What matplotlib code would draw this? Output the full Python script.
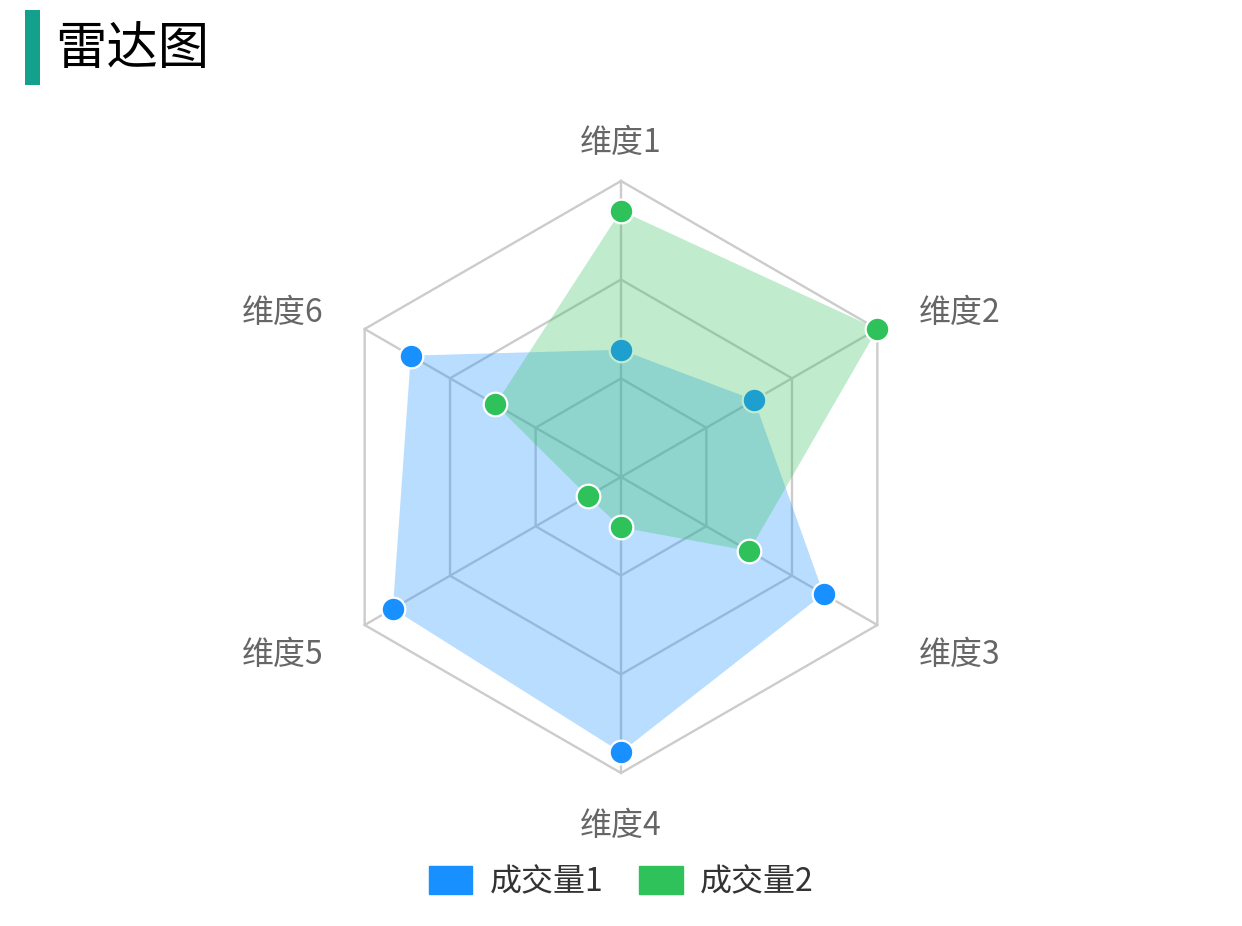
import numpy as np
import matplotlib
matplotlib.use("Agg")
import matplotlib.pyplot as plt
from matplotlib.patches import Patch, Rectangle

plt.rcParams['font.family'] = ['Noto Sans CJK SC', 'DejaVu Sans']

title = "雷达图"
dimensions = ["维度1", "维度2", "维度3", "维度4", "维度5", "维度6"]
series_names = ["成交量1", "成交量2"]
values1 = [43, 52, 79, 93, 89, 82]
values2 = [90, 100, 50, 17, 13, 49]
max_value = 100
grid_levels = [33.3, 66.7, 100]

blue = "#1890FF"
green = "#2FC25B"

W, H = 1242, 926
fig = plt.figure(figsize=(W / 100, H / 100), dpi=100)

cx, cy, R = 621, 477, 296
ax = fig.add_axes([(cx - R) / W, (H - cy - R) / H, 2 * R / W, 2 * R / H], projection='polar')
ax.set_theta_offset(np.pi / 2)
ax.set_theta_direction(-1)
ax.set_ylim(0, max_value)
ax.grid(False)
ax.spines['polar'].set_visible(False)
ax.set_xticks([])
ax.set_yticks([])
ax.patch.set_alpha(0)

n = len(dimensions)
theta = np.arange(n) * 2 * np.pi / n
theta_closed = np.append(theta, theta[0])

# grid hexagons and spokes
for lv in grid_levels:
    ax.plot(theta_closed, [lv] * (n + 1), color="#cccccc", lw=1.7, zorder=1, clip_on=False)
for t in theta:
    ax.plot([t, t], [0, max_value], color="#cccccc", lw=1.7, zorder=1, clip_on=False)

v1 = np.append(values1, values1[0])
v2 = np.append(values2, values2[0])

ax.fill(theta_closed, v1, color=blue, alpha=0.3, lw=0, zorder=2)
ax.plot(theta, values1, ls='none', marker='o', ms=17, mfc=blue, mec='white', mew=1.6, zorder=3, clip_on=False)
ax.fill(theta_closed, v2, color=green, alpha=0.3, lw=0, zorder=4)
ax.plot(theta, values2, ls='none', marker='o', ms=17, mfc=green, mec='white', mew=1.6, zorder=5, clip_on=False)

# axis labels
offsets = [(0, 38, 'center'), (41, 16, 'left'), (41, -30, 'left'),
           (0, -53, 'center'), (-41, -30, 'right'), (-41, 16, 'right')]
for t, lab, (dx, dy, ha) in zip(theta, dimensions, offsets):
    ax.annotate(lab, xy=(t, max_value), xytext=(dx * 0.72, dy * 0.72), textcoords='offset points',
                ha=ha, va='center', fontsize=23, color="#666666", annotation_clip=False)

# title
fig.patches.append(Rectangle((25 / W, 1 - 85 / H), 15 / W, 75 / H, transform=fig.transFigure,
                             color="#13A08C", lw=0))
fig.text(55 / W, 1 - 49 / H, title, fontsize=37, color="black", ha='left', va='center')

handles = [Patch(color=blue), Patch(color=green)]
fig.legend(handles, series_names, loc='center', bbox_to_anchor=(621 / W, 1 - 882 / H), ncol=2,
           frameon=False, fontsize=23, handlelength=1.37, handleheight=0.94, handletextpad=0.53,
           columnspacing=1.12, labelcolor="#333333")

fig.savefig("out.png", dpi=100)
